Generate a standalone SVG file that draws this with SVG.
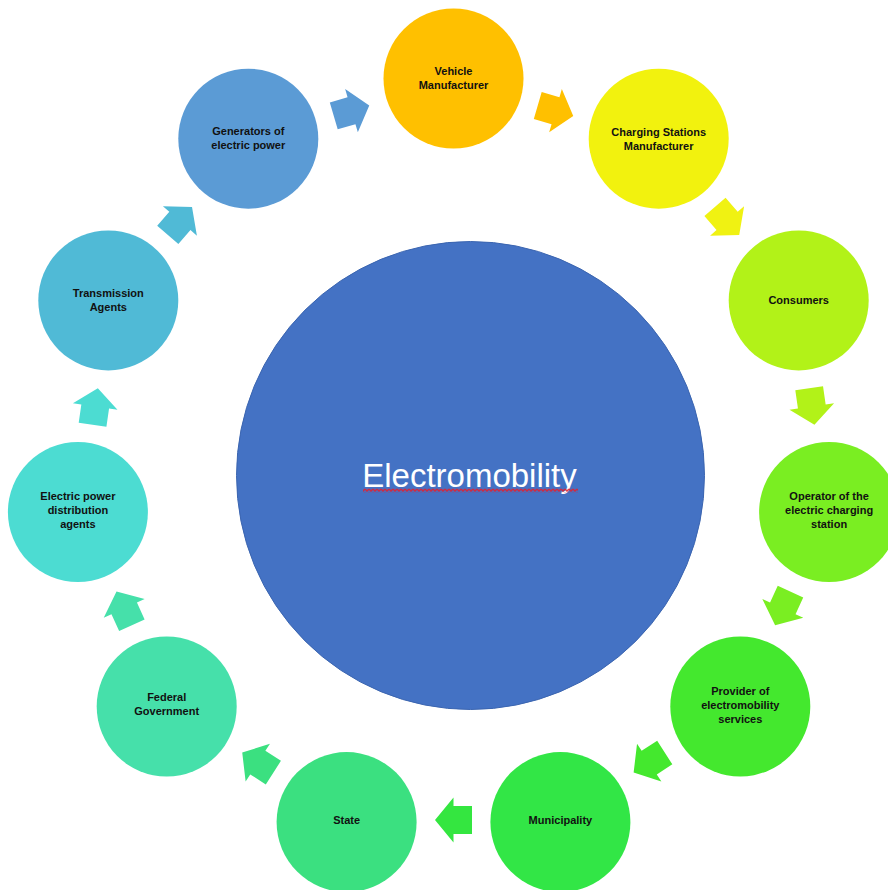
<svg xmlns="http://www.w3.org/2000/svg" xmlns:xlink="http://www.w3.org/1999/xlink" width="888" height="890" viewBox="0 0 888 890">
<style>
.lbl{font-family:"Liberation Sans",Arial,sans-serif;font-size:11px;font-weight:bold;fill:#111;text-anchor:middle}
.hub{font-family:"Liberation Sans",Arial,sans-serif;font-size:33px;fill:#ffffff;text-anchor:middle}
</style>
<defs>
<path id="arr" d="M-18.5,-14 L0,-14 L0,-22.5 L18.5,0 L0,22.5 L0,14 L-18.5,14 Z"/>
<pattern id="wave" x="363" y="488.5" width="4" height="4" patternUnits="userSpaceOnUse">
<polyline points="0,3 1,1.5 2,0.5 3,1.5 4,3" fill="none" stroke="#e02030" stroke-width="1.3"/>
</pattern>
</defs>
<rect width="888" height="890" fill="#ffffff"/>

<g id="center">
<circle cx="470.5" cy="475.5" r="234" fill="#4472c4" stroke="#3b65b0" stroke-width="1"/>
<text class="hub" x="469.5" y="487">Electromobility</text>
<rect x="363" y="488.5" width="215" height="4" fill="url(#wave)"/>
</g>

<g id="connectors">
<use xlink:href="#arr" transform="translate(555.5,110.7) rotate(16.36)" fill="#ffc000"/>
<use xlink:href="#arr" transform="translate(727.1,220.9) rotate(49.09)" fill="#f0f212"/>
<use xlink:href="#arr" transform="translate(811.8,406.5) rotate(81.82)" fill="#b2f218"/>
<use xlink:href="#arr" transform="translate(782.8,608.4) rotate(114.55)" fill="#7aee22"/>
<use xlink:href="#arr" transform="translate(649.2,762.6) rotate(147.27)" fill="#44e82e"/>
<use xlink:href="#arr" transform="translate(453.5,820) rotate(180)" fill="#34e640"/>
<use xlink:href="#arr" transform="translate(257.8,762.6) rotate(212.73)" fill="#3be080"/>
<use xlink:href="#arr" transform="translate(124.2,608.4) rotate(245.45)" fill="#46e0aa"/>
<use xlink:href="#arr" transform="translate(95.2,406.5) rotate(278.18)" fill="#4cdcd2"/>
<use xlink:href="#arr" transform="translate(179.9,220.9) rotate(310.91)" fill="#50bad6"/>
<use xlink:href="#arr" transform="translate(351.5,110.7) rotate(343.64)" fill="#5b9bd5"/>
</g>

<g id="vehicle-manufacturer">
<circle cx="453.5" cy="78.5" r="70" fill="#ffc000"/>
<text class="lbl" x="453.5" y="75">Vehicle</text>
<text class="lbl" x="453.5" y="89">Manufacturer</text>
</g>
<g id="charging-stations-manufacturer">
<circle cx="658.7" cy="138.7" r="70" fill="#f2f20e"/>
<text class="lbl" x="658.7" y="135.5">Charging Stations</text>
<text class="lbl" x="658.7" y="149.5">Manufacturer</text>
</g>
<g id="consumers">
<circle cx="798.7" cy="300.4" r="70" fill="#b2f218"/>
<text class="lbl" x="798.7" y="304">Consumers</text>
</g>
<g id="operator">
<circle cx="829.1" cy="512" r="70" fill="#7aee22"/>
<text class="lbl" x="829.1" y="500">Operator of the</text>
<text class="lbl" x="829.1" y="514">electric charging</text>
<text class="lbl" x="829.1" y="528">station</text>
</g>
<g id="provider">
<circle cx="740.3" cy="706.5" r="70" fill="#44e82e"/>
<text class="lbl" x="740.3" y="694.5">Provider of</text>
<text class="lbl" x="740.3" y="708.5">electromobility</text>
<text class="lbl" x="740.3" y="722.5">services</text>
</g>
<g id="municipality">
<circle cx="560.4" cy="822.1" r="70" fill="#32e646"/>
<text class="lbl" x="560.4" y="824">Municipality</text>
</g>
<g id="state">
<circle cx="346.6" cy="822.1" r="70" fill="#3be080"/>
<text class="lbl" x="346.6" y="824">State</text>
</g>
<g id="federal-government">
<circle cx="166.7" cy="706.5" r="70" fill="#46e0aa"/>
<text class="lbl" x="166.7" y="701">Federal</text>
<text class="lbl" x="166.7" y="715">Government</text>
</g>
<g id="distribution-agents">
<circle cx="77.9" cy="512" r="70" fill="#4cdcd2"/>
<text class="lbl" x="77.9" y="500">Electric power</text>
<text class="lbl" x="77.9" y="514">distribution</text>
<text class="lbl" x="77.9" y="528">agents</text>
</g>
<g id="transmission-agents">
<circle cx="108.3" cy="300.4" r="70" fill="#50bad6"/>
<text class="lbl" x="108.3" y="297">Transmission</text>
<text class="lbl" x="108.3" y="311">Agents</text>
</g>
<g id="generators">
<circle cx="248.3" cy="138.7" r="70" fill="#5b9bd5"/>
<text class="lbl" x="248.3" y="135">Generators of</text>
<text class="lbl" x="248.3" y="149">electric power</text>
</g>
</svg>
